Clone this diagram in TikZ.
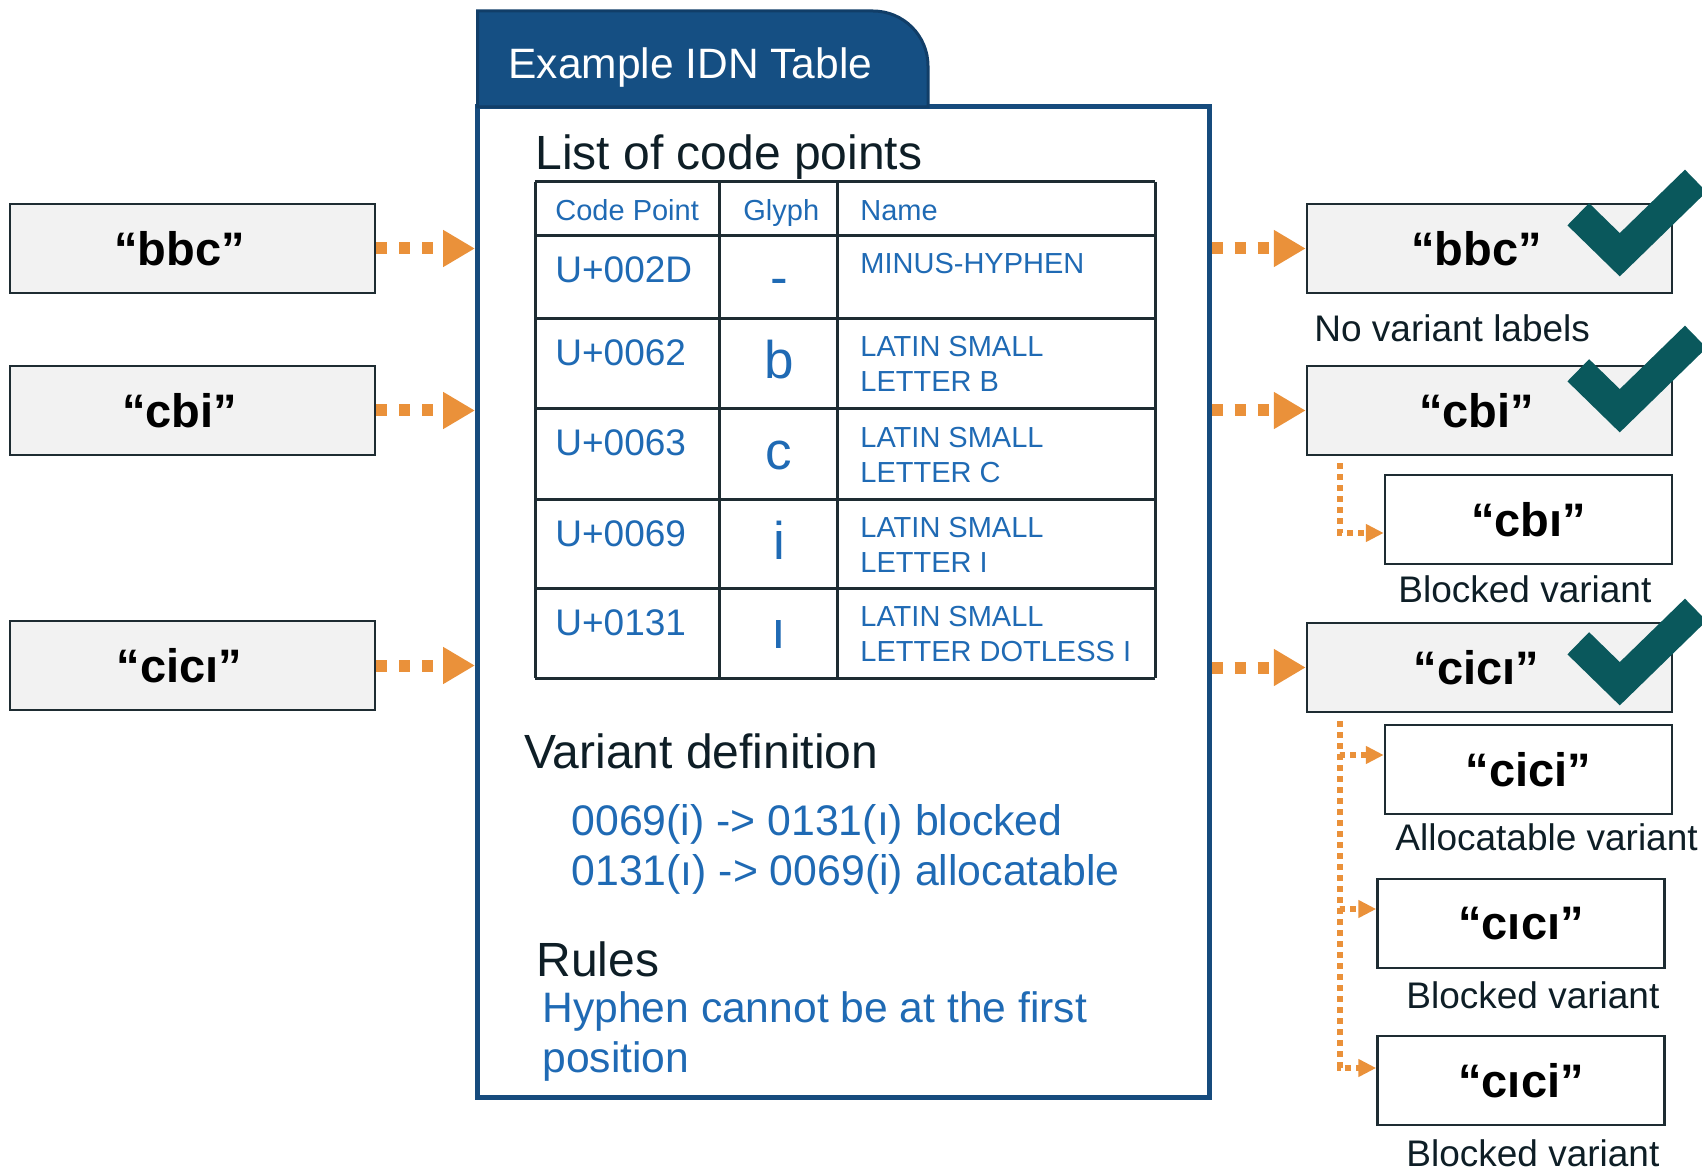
\documentclass[tikz,border=0pt]{standalone}
\usepackage{fontspec}
\setmainfont{Liberation Sans}
\usetikzlibrary{arrows.meta, positioning, calc}
\definecolor{idnnavy}{RGB}{22,75,125}
\definecolor{tabnavy}{RGB}{21,79,131}
\definecolor{tabedge}{RGB}{17,62,104}
\definecolor{cpblue}{RGB}{31,106,180}
\definecolor{flow}{RGB}{234,145,58}
\definecolor{okteal}{RGB}{10,88,92}
\definecolor{ink}{RGB}{14,30,38}
\definecolor{boxgray}{RGB}{242,242,242}
\definecolor{boxline}{RGB}{30,44,50}
\newcommand{\fsz}[1]{\fontsize{#1}{#1}\selectfont}

\begin{document}
\begin{tikzpicture}[
    x=0.5pt, y=-0.5pt,
    graybox/.style={draw=boxline, line width=1.25pt, fill=boxgray, minimum width=182.5pt, minimum height=44.5pt, inner sep=0pt, font=\fsz{23.5}\bfseries},
    whitebox/.style={graybox, fill=white, minimum width=143.5pt},
    caption/.style={inner sep=0pt, anchor=base west, text=ink, font=\fsz{18.5}},
    head/.style={inner sep=0pt, anchor=base west, text=ink, font=\fsz{24}},
    cell/.style={inner sep=0pt, anchor=base west, text=cpblue},
    bigarr/.style={-{Triangle[length=16pt, width=17.5pt]}, line width=6pt, dash pattern=on 5.5pt off 6pt, draw=flow},
    varr/.style={-{Triangle[length=9pt, width=8.5pt]}, line width=3pt, dash pattern=on 3pt off 2.5pt, draw=flow},
    okmark/.style={draw=okteal, line width=15.5pt, line join=miter},
    grid/.style={draw=boxline, line width=1.5pt},
]
\useasboundingbox (0,0) rectangle (1702,1171);

% IDN table frame and tab
\node[draw=idnnavy, line width=2.5pt, minimum width=365.75pt, minimum height=495pt, inner sep=0pt] (idn) at (843.25,602) {};
\filldraw[fill=tabnavy, draw=tabedge, line width=1.5pt]
    (477.5,107) -- (477.5,11) -- (873,11) arc[start angle=-90, end angle=0, radius=55] -- (928,107) -- cycle;
\node[inner sep=0pt, anchor=base west, text=white, font=\fsz{21.25}] (tabtitle) at (508,79) {Example IDN Table};

% code point list
\node[head] (listhd) at (535,170) {List of code points};
\foreach \y in {182,236,319,409,499,588,678}
    \draw[grid] (535,\y) -- (1155,\y);
\foreach \x in {535,719,837,1155}
    \draw[grid] (\x,182) -- (\x,678);
\node[cell, font=\fsz{14.5}] (hcode)  at (555,221) {Code Point};
\node[cell, font=\fsz{14.5}] (hglyph) at (743,221) {Glyph};
\node[cell, font=\fsz{14.5}] (hname)  at (860,221) {Name};
\foreach \t/\cp/\gl/\na/\nb [count=\i] in {236/U+002D/-/MINUS-HYPHEN/{},
        319/U+0062/b/LATIN SMALL/LETTER B, 409/U+0063/c/LATIN SMALL/LETTER C,
        499/U+0069/i/LATIN SMALL/LETTER I, 588/U+0131/ı/LATIN SMALL/LETTER DOTLESS I} {
    \node[cell, font=\fsz{18.5}] (cp\i) at (555,\t+47) {\cp};
    \node[cell, anchor=base, font=\fsz{26.5}] (gl\i) at (779,\t+60) {\gl};
    \node[cell, font=\fsz{14.5}] (na\i) at (860,\t+38) {\na};
    \node[cell, font=\fsz{14.5}] (nb\i) at (860,\t+73) {\nb};
}

% variants and rules
\node[head] (vardef) at (524,768) {Variant definition};
\node[cell, font=\fsz{21.4}] (vdef1) at (571,835) {0069(i) -> 0131(ı) blocked};
\node[cell, font=\fsz{21.4}] (vdef2) at (571,885) {0131(ı) -> 0069(i) allocatable};
\node[head] (rules) at (536,976) {Rules};
\node[cell, font=\fsz{21.3}] (rule1) at (542,1022) {Hyphen cannot be at the first};
\node[cell, font=\fsz{21.3}] (rule2) at (542,1072) {position};

% applied labels
\node[graybox] (inbbc)  at (192.5,248.5) {“bbc”\hspace*{13pt}};
\node[graybox] (incbi)  at (192.5,410.5) {“cbi”\hspace*{13pt}};
\node[graybox] (incici) at (192.5,665.5) {“cicı”\hspace*{13pt}};

% results
\node[graybox]  (outbbc)  at (1489.5,248.5) {“bbc”\hspace*{13pt}};
\node[graybox]  (outcbi)  at (1489.5,410.5) {“cbi”\hspace*{13pt}};
\node[whitebox] (varcbi)  at (1528.5,519.5) {“cbı”};
\node[graybox]  (outcici) at (1489.5,667.5) {“cicı”\hspace*{13pt}};
\node[whitebox] (varcia)  at (1528.5,769.5) {“cici”};
\node[whitebox] (varcib)  at (1521,923.5)   {“cıcı”};
\node[whitebox] (varcic)  at (1521,1080.5)  {“cıci”};

\node[caption] (lblnone) at (1314,342)  {No variant labels};
\node[caption] (lblcbi)  at (1398,602)  {Blocked variant};
\node[caption] (lblcia)  at (1395,850)  {Allocatable variant};
\node[caption] (lblcib)  at (1406,1008) {Blocked variant};
\node[caption] (lblcic)  at (1406,1166) {Blocked variant};

\draw[okmark] ($(outbbc.north west)+(272.5,11.5)$) -- ++(41.5,40.5) -- ++(76,-74);
\draw[okmark] ($(outcbi.north west)+(272.5,5.5)$) -- ++(41.5,40.5) -- ++(76,-74);
\draw[okmark] ($(outcici.north west)+(272.5,21.5)$) -- ++(41.5,40.5) -- ++(76,-74);

\draw[bigarr] (inbbc.east) -- (inbbc.east -| idn.west);
\draw[bigarr] (incbi.east) -- (incbi.east -| idn.west);
\draw[bigarr] (incici.east) -- (incici.east -| idn.west);
\draw[bigarr] (idn.east |- outbbc.west) -- (outbbc.west);
\draw[bigarr] (idn.east |- outcbi.west) -- (outcbi.west);
\draw[bigarr] (idn.east |- outcici.west) -- (outcici.west);

\coordinate (trunka) at ($(outcbi.south west)+(34,7)$);
\coordinate (trunkb) at ($(outcici.south west)+(34,8)$);
\draw[varr] (trunka) |- ($(varcbi.west)+(0,13.5)$);
\draw[varr] (trunkb) |- ($(varcia.west)+(0,-14.5)$);
\draw[varr] (trunkb) |- ($(varcib.west)+(0,-14.5)$);
\draw[varr] (trunkb) |- ($(varcic.west)+(0,-12.5)$);
\end{tikzpicture}
\end{document}
